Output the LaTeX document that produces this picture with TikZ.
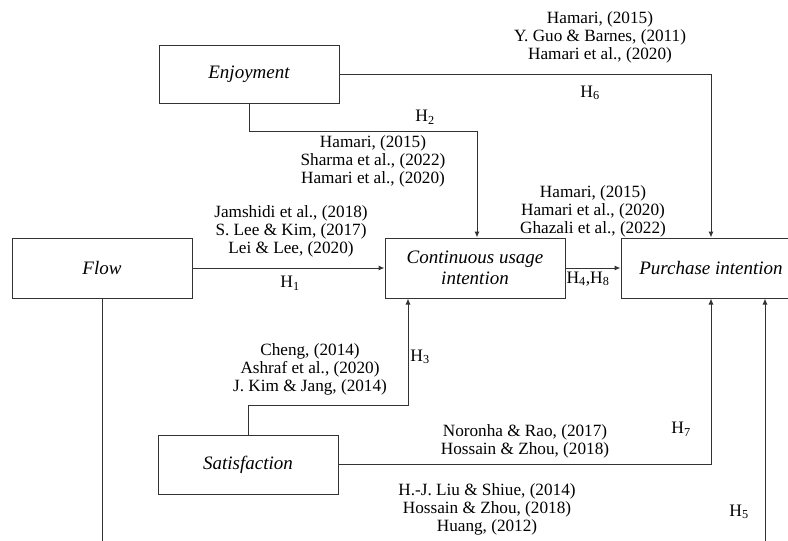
\documentclass[tikz,border=0pt]{standalone}
\usepackage{fontspec}
\setmainfont{Liberation Serif}
\usetikzlibrary{arrows.meta}
\begin{document}
\begin{tikzpicture}[x=1pt,y=-1pt,
  box/.style={draw=black!80, line width=1pt, inner sep=0pt, minimum width=180pt, minimum height=60pt, font=\fontsize{19}{21}\selectfont\itshape, align=center},
  cite/.style={align=center, inner sep=0pt, font=\fontsize{17.2}{18}\selectfont},
  hyp/.style={inner sep=0pt, font=\fontsize{17.5}{18}\selectfont},
  conn/.style={draw=black!80, line width=1pt},
  arr/.style={conn, -{Latex[length=6pt,width=5pt]}}]
\useasboundingbox (0,0) rectangle (788,541);
\clip (0,0) rectangle (788,541);
\fill[white] (0,0) rectangle (788,541);
% boxes
\node[box, minimum height=58pt] (enj) at (249,74) {Enjoyment};
\node[box] (flow) at (102,268) {Flow};
\node[box] (cui) at (475,268) {Continuous usage\\intention};
\node[box] (pi) at (711,268) {Purchase intention};
\node[box, minimum height=59pt] (sat) at (248,464.5) {Satisfaction};
% free ends at the bottom edge
\coordinate (fb) at (102,545);
\coordinate (pb) at (765,545);
% connectors
\draw[arr] (enj.east) -| (pi.north);
\draw[arr] (enj.south) -- ++(0,28) -| ([xshift=2pt]cui.north);
\draw[arr] (flow.east) -- (cui.west);
\draw[arr] (cui.east) -- (pi.west);
\draw[arr] (sat.north) -- ++(0,-29) -| ([xshift=-67pt]cui.south);
\draw[arr] (sat.east) -| (pi.south);
\draw[conn] (flow.south) -- (fb);
\draw[arr] (pb) -- (pb |- pi.south);
% citations
\node[cite] (c6) at (600,37) {Hamari, (2015)\\Y. Guo \& Barnes, (2011)\\Hamari et al., (2020)};
\node[cite] (c2) at (373,161) {Hamari, (2015)\\Sharma et al., (2022)\\Hamari et al., (2020)};
\node[cite] (c4) at (593,211) {Hamari, (2015)\\Hamari et al., (2020)\\Ghazali et al., (2022)};
\node[cite] (c1) at (291,231) {Jamshidi et al., (2018)\\S. Lee \& Kim, (2017)\\Lei \& Lee, (2020)};
\node[cite] (c3) at (310,369) {Cheng, (2014)\\Ashraf et al., (2020)\\J. Kim \& Jang, (2014)};
\node[cite] (c7) at (525,441) {Noronha \& Rao, (2017)\\Hossain \& Zhou, (2018)};
\node[cite] (c5) at (487,509) {H.-J. Liu \& Shiue, (2014)\\Hossain \& Zhou, (2018)\\Huang, (2012)};
% hypotheses
\node[hyp] (h6) at (590,93) {H\textsubscript{6}};
\node[hyp] (h2) at (425,117) {H\textsubscript{2}};
\node[hyp] (h1) at (290,283) {H\textsubscript{1}};
\node[hyp] (h48) at (588,279) {H\textsubscript{4},H\textsubscript{8}};
\node[hyp] (h3) at (420,357) {H\textsubscript{3}};
\node[hyp] (h7) at (681,429) {H\textsubscript{7}};
\node[hyp] (h5) at (739,512) {H\textsubscript{5}};
\end{tikzpicture}
\end{document}
